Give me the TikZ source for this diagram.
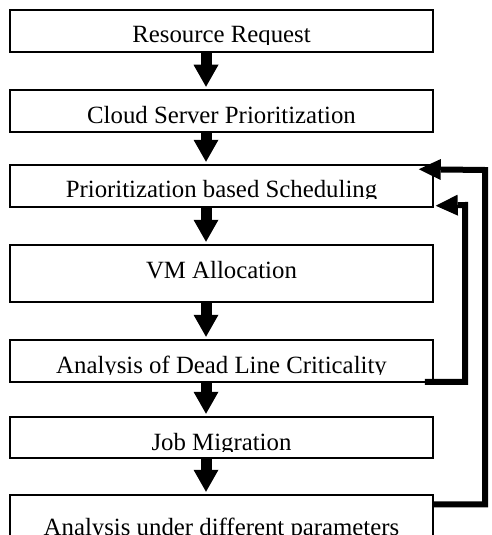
\documentclass[tikz,border=0pt]{standalone}
\usepackage{fontspec}
\setmainfont{Liberation Serif}
\usetikzlibrary{arrows.meta,calc}

\tikzset{
  stepbox/.style={draw, line width=1.5pt, minimum width=423pt, inner sep=0pt},
  steptext/.style={anchor=base, inner sep=0pt, font=\fontsize{24.8pt}{28pt}\selectfont},
  flow/.style={line width=11pt, -{Triangle[length=22pt,width=25pt,line width=0pt]}, shorten >=2.5pt},
  feedback/.style={line width=6pt, line join=miter, -{Triangle[length=22pt,width=21pt,line width=0pt]}},
}

% label of a step box, cut just below its baseline
% #1 box name, #2 label name, #3 baseline y, #4 text
\newcommand\steplabel[4]{%
  \begin{scope}
    \clip (#1.north west) rectangle (433,{#3+1.2});
    \node[steptext] (#2) at (221.5,#3) {#4};
  \end{scope}}

\begin{document}
\begin{tikzpicture}[x=1pt,y=-1pt]
  \clip (0,0) rectangle (492,535);
  \fill[white] (0,0) rectangle (492,535);

  % step boxes
  \node[stepbox, minimum height=42pt] (b1) at (221.5,31) {};
  \node[stepbox, minimum height=42pt] (b2) at (221.5,111) {};
  \node[stepbox, minimum height=42pt] (b3) at (221.5,186) {};
  \node[stepbox, minimum height=57pt] (b4) at (221.5,273.5) {};
  \node[stepbox, minimum height=42pt] (b5) at (221.5,361) {};
  \node[stepbox, minimum height=41pt] (b6) at (221.5,437.5) {};
  \node[stepbox, minimum height=50pt] (b7) at (221.5,520) {};

  % labels
  \steplabel{b1}{t1}{43}{Resource Request}
  \steplabel{b2}{t2}{123}{Cloud Server Prioritization}
  \steplabel{b3}{t3}{197}{Prioritization based Scheduling}
  \steplabel{b4}{t4}{278}{VM Allocation}
  \steplabel{b5}{t5}{373}{Analysis of Dead Line Criticality}
  \steplabel{b6}{t6}{450}{Job Migration}
  \steplabel{b7}{t7}{535}{Analysis under different parameters}

  % main flow
  \coordinate (ax) at (206,0);
  \draw[flow] (b1.south -| ax) -- (b2.north -| ax);
  \draw[flow] (b2.south -| ax) -- (b3.north -| ax);
  \draw[flow] (b3.south -| ax) -- (b4.north -| ax);
  \draw[flow] (b4.south -| ax) -- (b5.north -| ax);
  \draw[flow] (b5.south -| ax) -- (b6.north -| ax);
  \draw[flow] (b6.south -| ax) -- (b7.north -| ax);

  % feedback loops
  \coordinate (o1) at (485,170);
  \draw[feedback] ([yshift=-10pt]b7.north east) -| (o1) -- ([shift={(-15pt,-5pt)}]b3.north east);
  \coordinate (o2) at (465,205);
  \draw[feedback] ([shift={(-9pt,1pt)}]b5.south east) -| (o2) -- ([shift={(2pt,2pt)}]b3.south east);
\end{tikzpicture}
\end{document}
